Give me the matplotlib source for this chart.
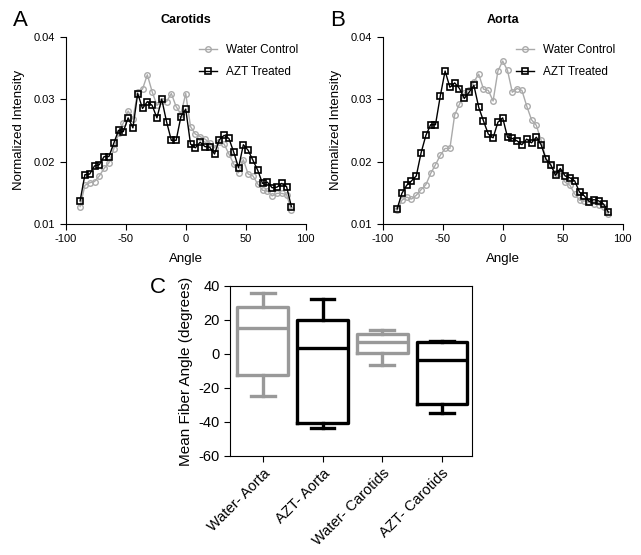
import numpy as np
import matplotlib
matplotlib.use("Agg")
import matplotlib.pyplot as plt

plt.rcParams['font.family'] = ['Liberation Sans', 'DejaVu Sans']
plt.rcParams['axes.unicode_minus'] = False

angle = np.arange(-88, 89, 4)

car_water = [0.0128, 0.0162, 0.0166, 0.0168, 0.0177, 0.0189, 0.0198, 0.0220, 0.0245,
             0.0262, 0.0281, 0.0268, 0.0312, 0.0316, 0.0339, 0.0312, 0.0290, 0.0297,
             0.0296, 0.0309, 0.0288, 0.0276, 0.0309, 0.0256, 0.0244, 0.0240, 0.0236,
             0.0230, 0.0222, 0.0232, 0.0228, 0.0212, 0.0196, 0.0182, 0.0203, 0.0180,
             0.0177, 0.0164, 0.0154, 0.0153, 0.0145, 0.0149, 0.0149, 0.0147, 0.0123]
car_azt = [0.0137, 0.0179, 0.0180, 0.0193, 0.0195, 0.0208, 0.0208, 0.0229, 0.0250,
           0.0248, 0.0270, 0.0254, 0.0309, 0.0285, 0.0296, 0.0290, 0.0270, 0.0300,
           0.0264, 0.0234, 0.0234, 0.0272, 0.0284, 0.0228, 0.0222, 0.0231, 0.0224,
           0.0223, 0.0212, 0.0235, 0.0242, 0.0237, 0.0215, 0.0190, 0.0227, 0.0218,
           0.0202, 0.0186, 0.0165, 0.0167, 0.0158, 0.0159, 0.0165, 0.0160, 0.0128]

aor_water = [0.0122, 0.0138, 0.0143, 0.0140, 0.0146, 0.0155, 0.0163, 0.0181, 0.0195,
             0.0210, 0.0221, 0.0221, 0.0275, 0.0292, 0.0310, 0.0315, 0.0328, 0.0340,
             0.0316, 0.0314, 0.0297, 0.0345, 0.0361, 0.0346, 0.0311, 0.0317, 0.0314,
             0.0289, 0.0267, 0.0258, 0.0234, 0.0205, 0.0194, 0.0181, 0.0182, 0.0167,
             0.0162, 0.0148, 0.0138, 0.0137, 0.0135, 0.0132, 0.0131, 0.0127, 0.0116]
aor_azt = [0.0124, 0.0149, 0.0162, 0.0169, 0.0177, 0.0214, 0.0242, 0.0259, 0.0259,
           0.0305, 0.0345, 0.0319, 0.0326, 0.0317, 0.0301, 0.0311, 0.0322, 0.0287,
           0.0265, 0.0244, 0.0238, 0.0263, 0.0270, 0.0239, 0.0237, 0.0233, 0.0227,
           0.0236, 0.0230, 0.0239, 0.0227, 0.0204, 0.0195, 0.0178, 0.0189, 0.0177,
           0.0174, 0.0169, 0.0151, 0.0145, 0.0136, 0.0139, 0.0137, 0.0132, 0.0119]

groups = ['Water- Aorta', 'AZT- Aorta', 'Water- Carotids', 'AZT- Carotids']
box_low = [-24.8, -43.6, -6.7, -34.6]
box_q1 = [-12.5, -40.5, 0.35, -29.3]
box_med = [15.0, 3.3, 7.2, -3.7]
box_q3 = [27.5, 20.1, 11.9, 6.8]
box_high = [36.1, 32.2, 14.2, 7.8]
box_col = ['#999999', 'black', '#999999', 'black']

fig = plt.figure(figsize=(6.41, 5.55), dpi=100)


def curve_panel(rect, water, azt, title, letter):
    ax = fig.add_axes(rect)
    ax.plot(angle, water, '-o', color='#aaaaaa', lw=1, ms=4, mfc='none',
            mec='#aaaaaa', mew=1, label='Water Control')
    ax.plot(angle, azt, '-s', color='black', lw=1, ms=4.8, mfc='none',
            mec='black', mew=1.2, label='AZT Treated')
    ax.set_xlim(-100, 100)
    ax.set_ylim(0.01, 0.04)
    ax.set_xticks([-100, -50, 0, 50, 100])
    ax.set_yticks([0.01, 0.02, 0.03, 0.04])
    ax.set_yticklabels(['0.01', '0.02', '0.03', '0.04'])
    ax.spines['top'].set_visible(False)
    ax.spines['right'].set_visible(False)
    ax.tick_params(labelsize=8, length=4, direction='out')
    ax.set_xlabel('Angle', fontsize=9.5, labelpad=6)
    ax.set_ylabel('Normalized Intensity', fontsize=9.5, labelpad=6)
    ax.set_title(title, fontsize=9, fontweight='bold', pad=10)
    ax.legend(loc='upper right', frameon=False, fontsize=8.5, handlelength=1.5,
              handletextpad=0.8, borderaxespad=0.2, labelspacing=0.9)
    ax.text(-0.22, 1.03, letter, transform=ax.transAxes, fontsize=16, va='bottom')
    return ax


curve_panel([0.1025, 0.5964, 0.3745, 0.3375], car_water, car_azt, 'Carotids', 'A')
curve_panel([0.597, 0.5964, 0.3745, 0.3375], aor_water, aor_azt, 'Aorta', 'B')

axc = fig.add_axes([0.3588, 0.1784, 0.3771, 0.3063])
stats = []
for i in range(len(groups)):
    stats.append(dict(whislo=box_low[i], q1=box_q1[i], med=box_med[i],
                      q3=box_q3[i], whishi=box_high[i], label=groups[i]))
pos = np.arange(1, len(groups) + 1)
for i in range(len(groups)):
    c = box_col[i]
    axc.bxp([stats[i]], positions=[pos[i]], widths=0.85, capwidths=0.4,
            showfliers=False, manage_ticks=False,
            boxprops=dict(color=c, lw=2.4), medianprops=dict(color=c, lw=2.4),
            whiskerprops=dict(color=c, lw=2.4), capprops=dict(color=c, lw=2.4))
axc.set_xlim(0.45, 4.5)
axc.set_ylim(-60, 40)
axc.set_yticks([-60, -40, -20, 0, 20, 40])
axc.set_xticks(pos)
axc.set_xticklabels(groups, rotation=45, ha='right', rotation_mode='anchor')
axc.tick_params(labelsize=10.5, length=4, direction='out')
axc.set_ylabel('Mean Fiber Angle (degrees)', fontsize=11)
axc.text(-0.33, 0.93, 'C', transform=axc.transAxes, fontsize=16, va='bottom')

fig.savefig('out.png', dpi=100)
